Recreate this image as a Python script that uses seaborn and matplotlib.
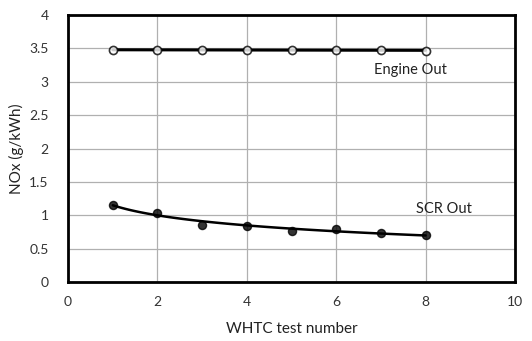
import numpy as np
import pandas as pd
import matplotlib
matplotlib.use("Agg")
import matplotlib.pyplot as plt
import seaborn as sns

test_number = [1, 2, 3, 4, 5, 6, 7, 8]
engine_out = [3.48, 3.47, 3.48, 3.48, 3.47, 3.48, 3.48, 3.46]
scr_out = [1.15, 1.04, 0.86, 0.84, 0.77, 0.80, 0.73, 0.70]

x_ticks = [0, 2, 4, 6, 8, 10]
y_ticks = [0, 0.5, 1, 1.5, 2, 2.5, 3, 3.5, 4]
y_tick_labels = ["0", "0.5", "1", "1.5", "2", "2.5", "3", "3.5", "4"]

df = pd.DataFrame({"test": test_number, "engine": engine_out, "scr": scr_out})

sns.set_style("white")
plt.rcParams["font.family"] = ["Lato", "DejaVu Sans"]

fig = plt.figure(figsize=(5.32, 3.41), dpi=100)
ax = fig.add_axes([0.128, 0.173, 0.840, 0.783])

sns.regplot(data=df, x="test", y="engine", order=1, ci=None, ax=ax,
            scatter_kws=dict(s=34, facecolors="white", edgecolors="black", linewidths=1.2, zorder=4),
            line_kws=dict(color="black", lw=2.2, zorder=3))
sns.regplot(data=df, x="test", y="scr", logx=True, ci=None, ax=ax,
            scatter_kws=dict(s=34, color="black", zorder=4),
            line_kws=dict(color="black", lw=1.8, zorder=3))

ax.set_xlim(0, 10)
ax.set_ylim(0, 4)
ax.set_xticks(x_ticks)
ax.set_yticks(y_ticks)
ax.set_yticklabels(y_tick_labels)
ax.grid(True, color="#b0b0b0", lw=0.9)
ax.set_axisbelow(True)
for s in ax.spines.values():
    s.set_color("black")
    s.set_linewidth(2)
ax.tick_params(axis="y", labelsize=10, colors="#333333", length=0, pad=14)
ax.tick_params(axis="x", labelsize=10, colors="#333333", length=0, pad=10)
ax.set_xlabel("WHTC test number", fontsize=11, color="#222222", labelpad=10)
ax.set_ylabel("NOx (g/kWh)", fontsize=11, color="#222222", labelpad=4)

ax.text(7.67, 3.18, "Engine Out", fontsize=10.5, ha="center", va="center", color="#222222")
ax.text(8.4, 1.1, "SCR Out", fontsize=10.5, ha="center", va="center", color="#222222")

fig.savefig("out.png", dpi=100)
